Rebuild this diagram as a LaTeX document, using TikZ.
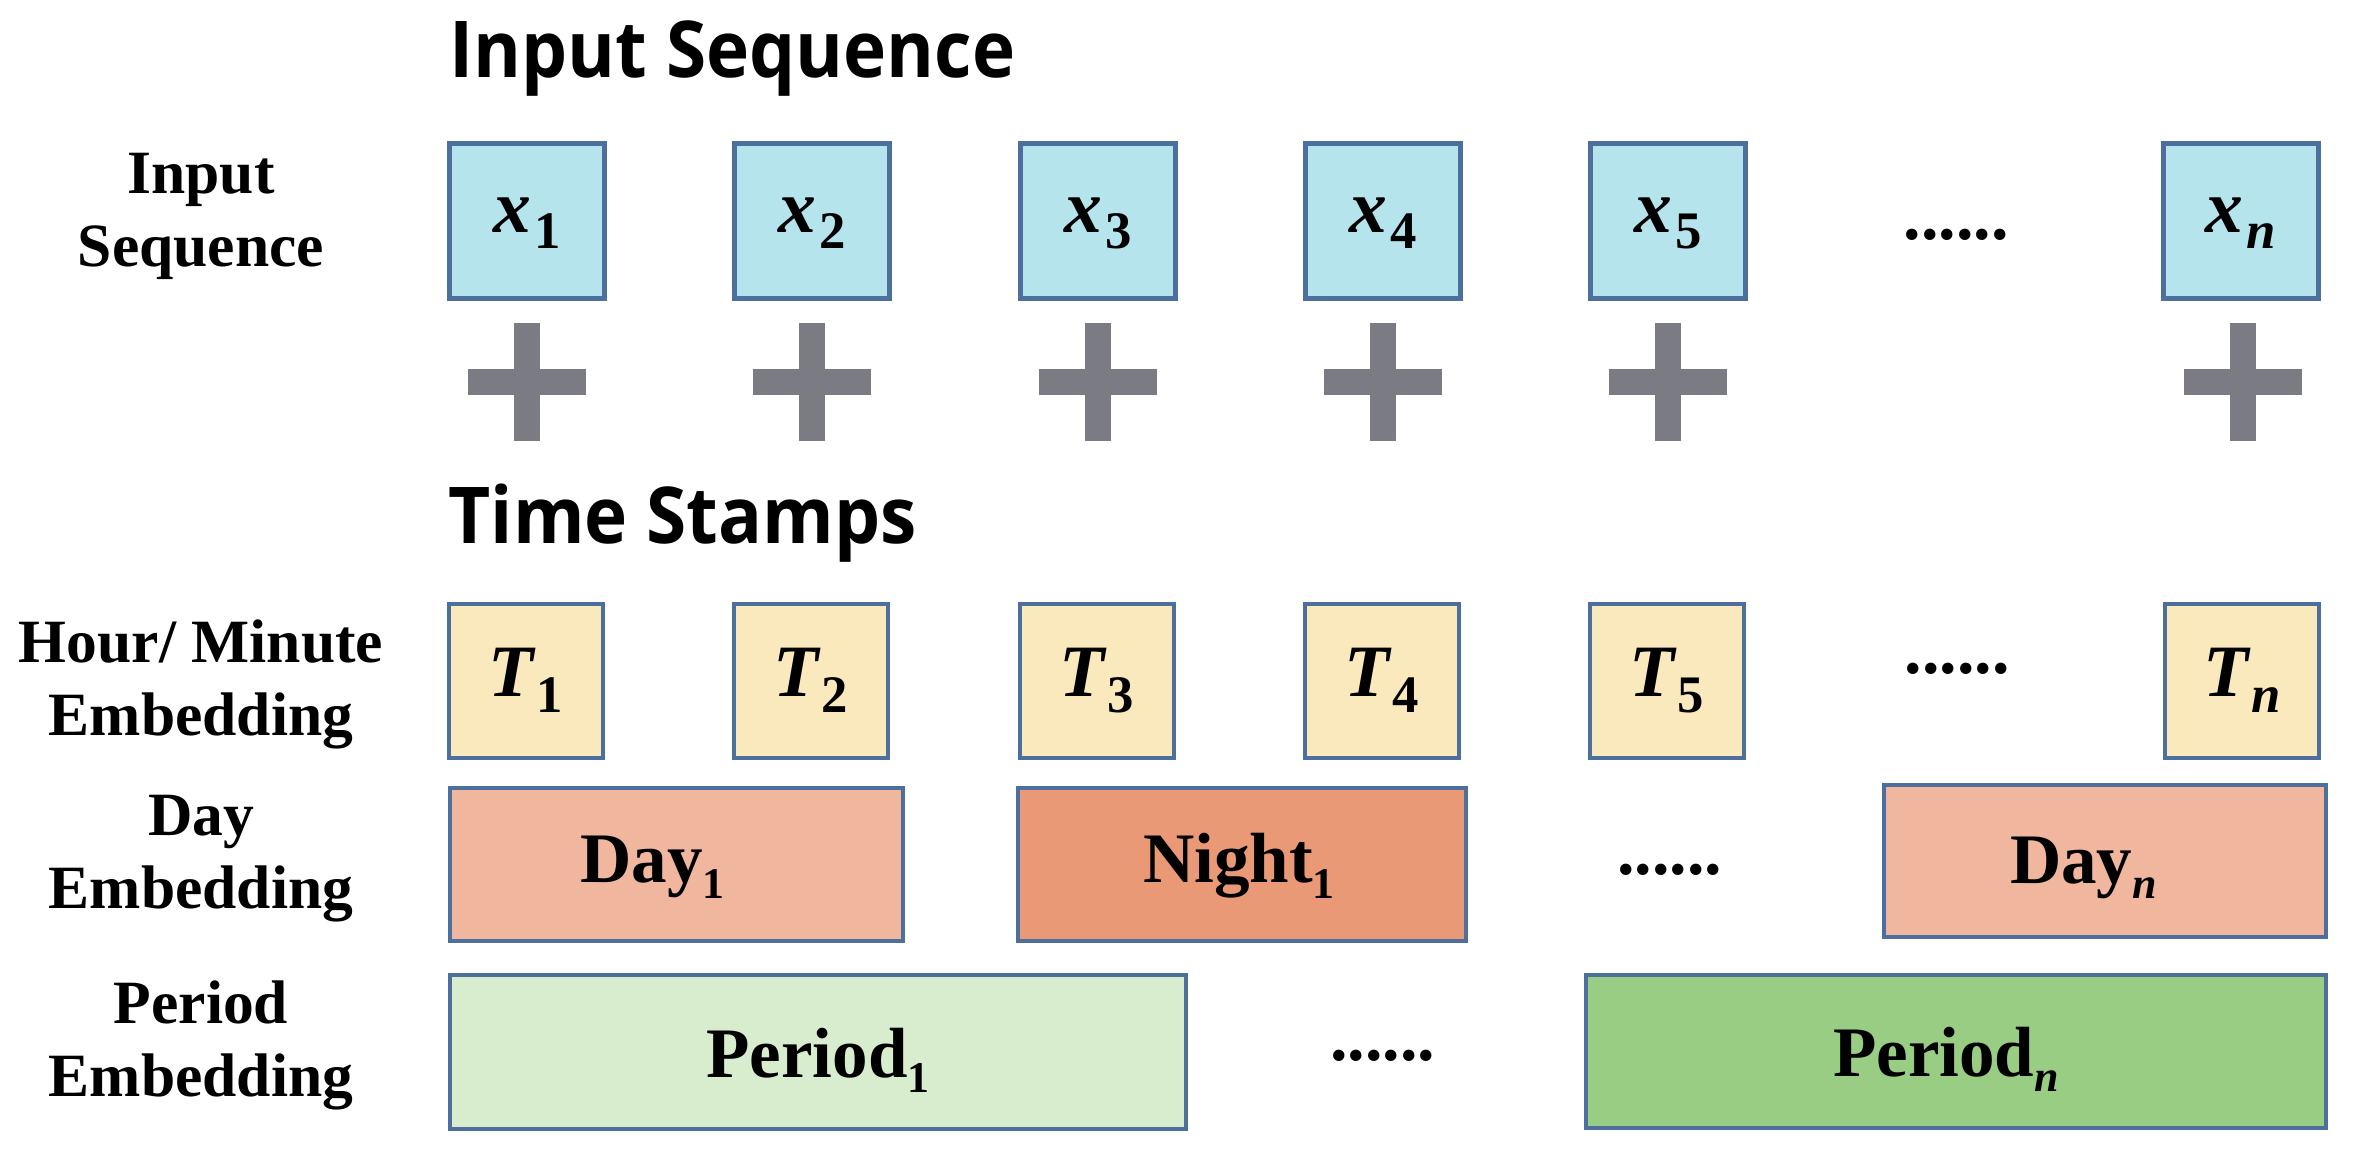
\documentclass[tikz,border=0pt]{standalone}
\usepackage{fontspec}
\setmainfont{Liberation Serif}
\newfontfamily\titlefont{Open Sans}[FakeStretch=0.93]
\definecolor{bordc}{RGB}{76,111,158}
\definecolor{xfill}{RGB}{182,228,237}
\definecolor{tfill}{RGB}{250,233,189}
\definecolor{dayfill}{RGB}{241,182,158}
\definecolor{nightfill}{RGB}{234,153,118}
\definecolor{ponefill}{RGB}{216,237,206}
\definecolor{pnfill}{RGB}{152,205,131}
\definecolor{plusc}{RGB}{122,123,131}
\newcommand\xsub[1]{\kern0.03cm\raisebox{-0.15cm}{\fontsize{15pt}{15pt}\selectfont\bfseries\upshape #1}}
\newcommand\dsub[1]{\raisebox{-0.15cm}{\fontsize{12.5pt}{12.5pt}\selectfont #1}}
\newcommand\bi[1]{{\bfseries\itshape #1}}
\tikzset{
  box/.style={draw=bordc, line width=0.045cm, inner sep=0pt, rectangle},
  xbox/.style={box, fill=xfill, minimum width=1.55cm, minimum height=1.55cm,
    text height=0.40cm, text depth=0.16cm, font=\fontsize{21.5pt}{24pt}\selectfont},
  tbox/.style={box, fill=tfill, minimum width=1.54cm, minimum height=1.54cm,
    text height=0.48cm, text depth=0.16cm, font=\fontsize{21pt}{24pt}\selectfont},
  wbox/.style={box, minimum height=1.53cm, font=\fontsize{20.2pt}{24pt}\selectfont\bfseries},
  lab/.style={align=center, inner sep=0pt, font=\fontsize{17.5pt}{21pt}\selectfont\bfseries},
  ttl/.style={inner sep=0pt, font=\titlefont\bfseries\fontsize{22.3pt}{26pt}\selectfont},
  dots/.style={inner sep=0pt, font=\fontsize{19.9pt}{24pt}\selectfont\bfseries},
}
\begin{document}
\begin{tikzpicture}[x=0.01cm, y=-0.01cm]
\useasboundingbox[fill=white] (0,0) rectangle (2356,1168);
% titles
\node[ttl, anchor=base west] (tin) at (449,78) {Input Sequence};
\node[ttl, anchor=base west] (tts) at (448,544) {Time Stamps};
% row labels
\node[lab, anchor=base] (lin) at (201,267) {Input\\Sequence};
\node[lab, anchor=base] (lhm) at (201,736) {Hour/ Minute\\Embedding};
\node[lab, anchor=base] (lday) at (201,909) {Day\\Embedding};
\node[lab, anchor=base] (lper) at (201,1097) {Period\\Embedding};
% input sequence boxes
\node[xbox] (x1) at (527,221) {\bi{x}\xsub{1}};
\node[xbox] (x2) at (812,221) {\bi{x}\xsub{2}};
\node[xbox] (x3) at (1098,221) {\bi{x}\xsub{3}};
\node[xbox] (x4) at (1383,221) {\bi{x}\xsub{4}};
\node[xbox] (x5) at (1668,221) {\bi{x}\xsub{5}};
\node[dots, anchor=base] (xd) at (1956,240) {......};
\node[xbox] (xn) at (2241,221) {\bi{x}\xsub{\bfseries\itshape n}};
% plus signs
\foreach \c in {527,812,1098,1383,1668,2243}{
  \fill[plusc] ({\c-59},369) rectangle ({\c+59},395);
  \fill[plusc] ({\c-13},323) rectangle ({\c+13},441);
}
% time stamp boxes
\node[tbox] (T1) at (526,681) {\bi{T}\xsub{1}};
\node[tbox] (T2) at (811,681) {\bi{T}\xsub{2}};
\node[tbox] (T3) at (1097,681) {\bi{T}\xsub{3}};
\node[tbox] (T4) at (1382,681) {\bi{T}\xsub{4}};
\node[tbox] (T5) at (1667,681) {\bi{T}\xsub{5}};
\node[dots, anchor=base] (Td) at (1957,674) {......};
\node[tbox] (Tn) at (2242,681) {\bi{T}\xsub{\bfseries\itshape n}};
% day embedding
\node[wbox, fill=dayfill, minimum width=4.53cm, text height=0.50cm, text depth=0.13cm] (d1) at (676.5,864.5) {Day\dsub{1}\kern0.48cm};
\node[wbox, fill=nightfill, minimum width=4.48cm, text height=0.50cm, text depth=0.13cm] (n1) at (1242,864.5) {Night\dsub{1}\kern0.06cm};
\node[dots, anchor=base] (dd) at (1669.5,875) {......};
\node[wbox, fill=dayfill, minimum width=4.42cm, minimum height=1.52cm, text height=0.55cm, text depth=0.11cm] (dn) at (2105,861) {Day\dsub{\itshape n}\kern0.43cm};
% period embedding
\node[wbox, fill=ponefill, minimum width=7.36cm, minimum height=1.54cm, text height=0.60cm, text depth=0.10cm] (p1) at (818,1052) {Period\dsub{1}};
\node[dots, anchor=base] (pd) at (1382.5,1061) {......};
\node[wbox, fill=pnfill, minimum width=7.40cm, minimum height=1.53cm, text height=0.60cm, text depth=0.10cm] (pn) at (1956,1051.5) {Period\dsub{\itshape n}\kern0.2cm};
\end{tikzpicture}
\end{document}
